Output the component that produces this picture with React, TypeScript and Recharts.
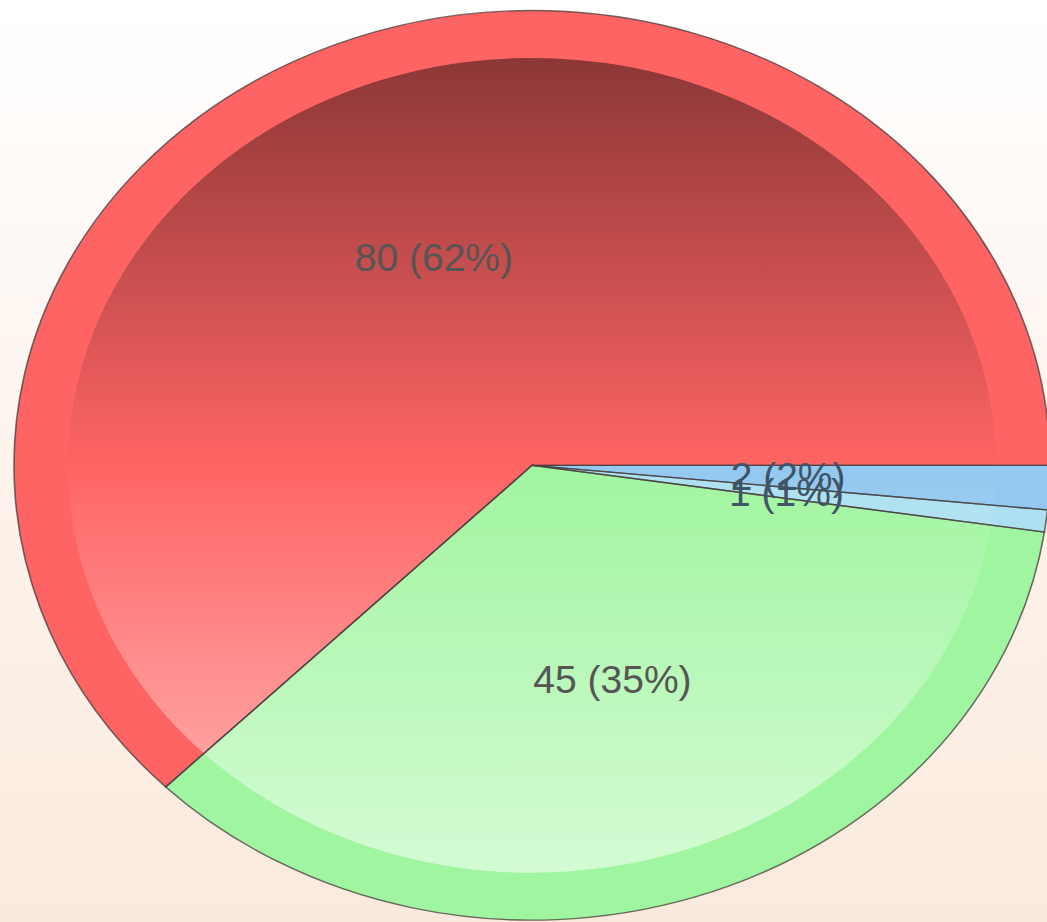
import { PieChart, Pie, Cell } from 'recharts';

// slice order runs clockwise from 3 o'clock
const names = ['D', 'C', 'B', 'A'];
const values = [2, 1, 45, 80];
const percentLabels = ['2%', '1%', '35%', '62%'];
const ringColors = ['#93c8f0', '#ace0f0', '#a0f5a0', '#ff6464'];

const SCALE_Y = 0.878;
const CX = 532;
const CY = 530;
const OUTER = 518;
const INNER = 464;
const RAD = Math.PI / 180;

const data = names.map((name, i) => ({ name, value: values[i] }));

function mix(hex: string, target: number, t: number) {
  const n = parseInt(hex.slice(1), 16);
  const ch = [(n >> 16) & 255, (n >> 8) & 255, n & 255].map((c) => Math.round(c + (target - c) * t));
  return '#' + ch.map((c) => c.toString(16).padStart(2, '0')).join('');
}

const renderLabel = (props: any) => {
  const { cx, cy, midAngle, index, value } = props;
  const r = OUTER * 0.495;
  const x = cx + r * Math.cos(-midAngle * RAD);
  const y = cy + r * Math.sin(-midAngle * RAD);
  return (
    <text
      transform={`translate(${x},${y}) scale(1,${1 / SCALE_Y})`}
      textAnchor="middle"
      dominantBaseline="central"
      fontFamily="Arial, 'Liberation Sans', sans-serif"
      fontSize={39}
      fill={index < 2 ? '#3f5566' : '#555555'}
    >
      {`${value} (${percentLabels[index]})`}
    </text>
  );
};

export default function App() {
  return (
    <div
      style={{
        position: 'absolute',
        left: 0,
        top: 0,
        width: 1047,
        height: 922,
        overflow: 'hidden',
        background: 'linear-gradient(to bottom, #ffffff 0%, #fdf3ec 50%, #faeadd 100%)',
      }}
    >
      <div style={{ transform: `scaleY(${SCALE_Y})`, transformOrigin: '0 0' }}>
        <PieChart width={1047} height={1060} margin={{ top: 0, right: 0, bottom: 0, left: 0 }}>
          <defs>
            {ringColors.map((c, i) => (
              <linearGradient
                key={i}
                id={`inner-${i}`}
                gradientUnits="userSpaceOnUse"
                x1={0}
                y1={CY - INNER}
                x2={0}
                y2={CY + INNER}
              >
                <stop offset="0%" stopColor={mix(c, 0, 0.45)} />
                <stop offset="50%" stopColor={c} />
                <stop offset="100%" stopColor={mix(c, 255, 0.55)} />
              </linearGradient>
            ))}
          </defs>
          <Pie
            data={data}
            dataKey="value"
            cx={CX}
            cy={CY}
            outerRadius={OUTER}
            startAngle={0}
            endAngle={-360}
            stroke="none"
            isAnimationActive={false}
          >
            {data.map((d, i) => (
              <Cell key={d.name} fill={ringColors[i]} />
            ))}
          </Pie>
          <Pie
            data={data}
            dataKey="value"
            cx={CX}
            cy={CY}
            outerRadius={INNER}
            startAngle={0}
            endAngle={-360}
            stroke="none"
            isAnimationActive={false}
          >
            {data.map((d, i) => (
              <Cell key={d.name} fill={`url(#inner-${i})`} />
            ))}
          </Pie>
          <Pie
            data={data}
            dataKey="value"
            cx={CX}
            cy={CY}
            outerRadius={OUTER}
            startAngle={0}
            endAngle={-360}
            fill="none"
            stroke="rgba(70,60,60,0.75)"
            strokeWidth={1.6}
            label={renderLabel}
            labelLine={false}
            isAnimationActive={false}
          >
            {data.map((d) => (
              <Cell key={d.name} fill="none" />
            ))}
          </Pie>
        </PieChart>
      </div>
    </div>
  );
}
